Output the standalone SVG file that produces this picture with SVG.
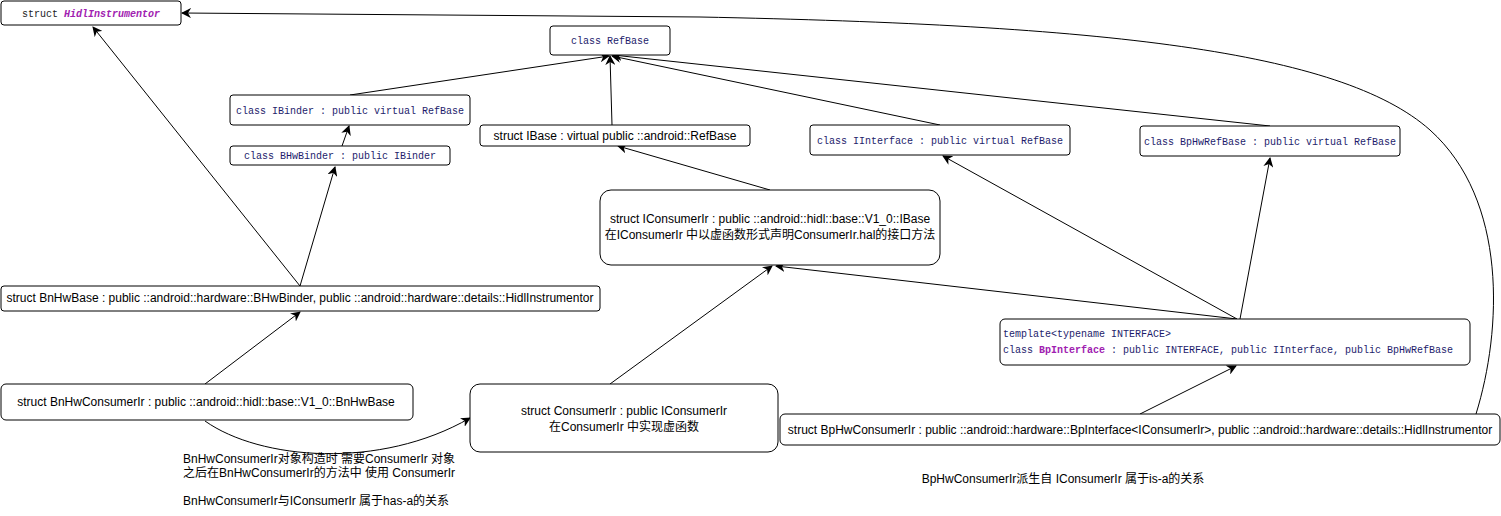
<svg xmlns="http://www.w3.org/2000/svg" width="1501" height="516" viewBox="0 0 1501 516">
<defs>
<style>
.box{fill:#fff;stroke:#000;stroke-width:1}
.mono{font-family:"Liberation Mono",monospace;font-size:10px;fill:#1c1c6b}
.sans{font-family:"Liberation Sans","Noto Sans CJK SC",sans-serif;font-size:12px;fill:#000}
.edge{fill:none;stroke:#000;stroke-width:1}
.purple{fill:#a020b0;font-weight:bold}
</style>
<marker id="arr" viewBox="0 0 10 10" refX="9" refY="5" markerWidth="10" markerHeight="10" markerUnits="userSpaceOnUse" orient="auto">
<path d="M0,0 L10,5 L0,10 L3,5 Z" fill="#000"/>
</marker>
</defs>
<rect width="1501" height="516" fill="#fff"/>
<g id="connectors">
<path class="edge" marker-end="url(#arr)" d="M300,286 L93,27"/>
<path class="edge" marker-end="url(#arr)" d="M300,286 L335,167"/>
<path class="edge" marker-end="url(#arr)" d="M342,146 L349,126"/>
<path class="edge" marker-end="url(#arr)" d="M350,95 L609,56"/>
<path class="edge" marker-end="url(#arr)" d="M612,125 L610,56"/>
<path class="edge" marker-end="url(#arr)" d="M940,125 L612,56"/>
<path class="edge" marker-end="url(#arr)" d="M1270,126 L613,55"/>
<path class="edge" marker-end="url(#arr)" d="M770,190 L618,146"/>
<path class="edge" marker-end="url(#arr)" d="M205,384 L300,312"/>
<path class="edge" marker-end="url(#arr)" d="M610,384 L772,266"/>
<path class="edge" marker-end="url(#arr)" d="M1237,319 L776,266"/>
<path class="edge" marker-end="url(#arr)" d="M1237,319 L943,156"/>
<path class="edge" marker-end="url(#arr)" d="M1240,319 L1270,158"/>
<path class="edge" marker-end="url(#arr)" d="M1140,414 L1236,366"/>
<path class="edge" marker-end="url(#arr)" d="M1476,414 C1502,330 1508,200 1430,130 C1340,50 1100,25 700,17 L182,13"/>
<path class="edge" marker-end="url(#arr)" d="M205,421 C260,460 380,470 470,418"/>
</g>
<g id="HidlInstrumentor">
<rect class="box" x="1" y="1" width="180" height="24" rx="3"/>
<text class="mono" x="91" y="17" text-anchor="middle"><tspan fill="#222">struct </tspan><tspan class="purple" font-style="italic">HidlInstrumentor</tspan></text>
</g>
<g id="RefBase">
<rect class="box" x="550" y="26" width="120" height="29" rx="3"/>
<text class="mono" x="610" y="44" text-anchor="middle">class RefBase</text>
</g>
<g id="IBinder">
<rect class="box" x="230" y="95" width="240" height="30" rx="3"/>
<text class="mono" x="350" y="114" text-anchor="middle">class IBinder : public virtual RefBase</text>
</g>
<g id="BHwBinder">
<rect class="box" x="230" y="146" width="220" height="19" rx="3"/>
<text class="mono" x="340" y="159" text-anchor="middle">class BHwBinder : public IBinder</text>
</g>
<g id="IBase">
<rect class="box" x="480" y="125" width="270" height="21" rx="3"/>
<text class="sans" x="615" y="140" text-anchor="middle">struct IBase : virtual public ::android::RefBase</text>
</g>
<g id="IInterface">
<rect class="box" x="810" y="125" width="260" height="30" rx="3"/>
<text class="mono" x="940" y="144" text-anchor="middle">class IInterface : public virtual RefBase</text>
</g>
<g id="BpHwRefBase">
<rect class="box" x="1140" y="126" width="260" height="30" rx="3"/>
<text class="mono" x="1270" y="145" text-anchor="middle">class BpHwRefBase : public virtual RefBase</text>
</g>
<g id="IConsumerIr">
<rect class="box" x="600" y="190" width="340" height="75" rx="11"/>
<text class="sans" x="770" y="223" text-anchor="middle">struct IConsumerIr : public ::android::hidl::base::V1_0::IBase</text>
<text class="sans" x="770" y="239" text-anchor="middle">在IConsumerIr 中以虚函数形式声明ConsumerIr.hal的接口方法</text>
</g>
<g id="BnHwBase">
<rect class="box" x="1" y="286" width="599" height="25" rx="3"/>
<text class="sans" x="300" y="302" text-anchor="middle">struct BnHwBase : public ::android::hardware::BHwBinder, public ::android::hardware::details::HidlInstrumentor</text>
</g>
<g id="BpInterface">
<rect class="box" x="1000" y="319" width="470" height="46" rx="5"/>
<text class="mono" x="1003" y="337">template&lt;typename INTERFACE&gt;</text>
<text class="mono" x="1003" y="353">class <tspan class="purple">BpInterface</tspan> : public INTERFACE, public IInterface, public BpHwRefBase</text>
</g>
<g id="BnHwConsumerIr">
<rect class="box" x="1" y="384" width="412" height="36" rx="5"/>
<text class="sans" x="206" y="406" text-anchor="middle">struct BnHwConsumerIr : public ::android::hidl::base::V1_0::BnHwBase</text>
</g>
<g id="ConsumerIr">
<rect class="box" x="470" y="384" width="308" height="68" rx="10"/>
<text class="sans" x="624" y="415" text-anchor="middle">struct ConsumerIr : public IConsumerIr</text>
<text class="sans" x="624" y="431" text-anchor="middle">在ConsumerIr 中实现虚函数</text>
</g>
<g id="BpHwConsumerIr">
<rect class="box" x="780" y="414" width="720" height="31" rx="5"/>
<text class="sans" x="1140" y="434" text-anchor="middle">struct BpHwConsumerIr : public ::android::hardware::BpInterface&lt;IConsumerIr&gt;, public ::android::hardware::details::HidlInstrumentor</text>
</g>
<g id="labels">
<text class="sans" x="183" y="463">BnHwConsumerIr对象构造时 需要ConsumerIr 对象</text>
<text class="sans" x="183" y="477">之后在BnHwConsumerIr的方法中 使用 ConsumerIr</text>
<text class="sans" x="183" y="505">BnHwConsumerIr与IConsumerIr 属于has-a的关系</text>
<text class="sans" x="1063" y="483" text-anchor="middle">BpHwConsumerIr派生自 IConsumerIr 属于is-a的关系</text>
</g>
</svg>
